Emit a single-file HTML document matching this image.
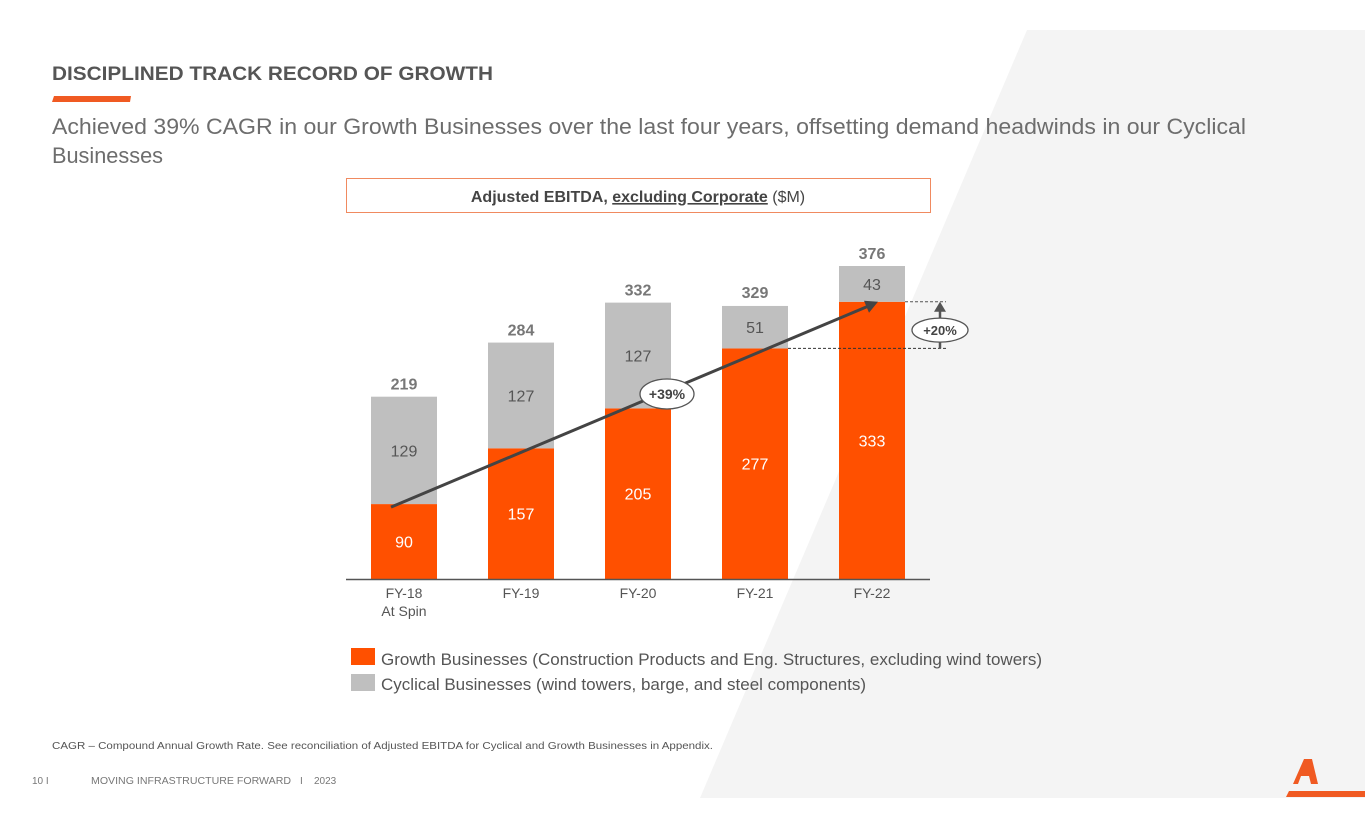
<!DOCTYPE html>
<html><head><meta charset="utf-8"><style>
html,body{margin:0;padding:0;background:#fff;}
svg{display:block;font-family:"Liberation Sans",Arial,sans-serif;}
</style></head><body>
<svg id="s" width="1365" height="829" viewBox="0 0 1365 829">
<polygon points="1027,30 1365,30 1365,798 700,798" fill="#f4f4f4"/>
<text x="52" y="80" font-size="19" font-weight="bold" fill="#555" textLength="441" lengthAdjust="spacingAndGlyphs">DISCIPLINED TRACK RECORD OF GROWTH</text>
<polygon points="54,96 131,96 130,102 52,102" fill="#f05a22"/>
<text x="52" y="134" font-size="22" fill="#6d6d6d" textLength="1194" lengthAdjust="spacingAndGlyphs">Achieved 39% CAGR in our Growth Businesses over the last four years, offsetting demand headwinds in our Cyclical</text>
<text x="52" y="163" font-size="22" fill="#6d6d6d" textLength="111" lengthAdjust="spacingAndGlyphs">Businesses</text>
<rect x="346.5" y="178.5" width="584" height="34" fill="#fff" stroke="#f08a60"/>
<text x="638" y="202" font-size="16" fill="#444" text-anchor="middle"><tspan font-weight="bold">Adjusted EBITDA, </tspan><tspan font-weight="bold" text-decoration="underline">excluding Corporate</tspan><tspan> ($M)</tspan></text>
<g id="chart"></g>
<rect x="351" y="648" width="24" height="17" fill="#ff5000"/>
<text x="381" y="665" font-size="16.5" fill="#555" textLength="661" lengthAdjust="spacingAndGlyphs">Growth Businesses (Construction Products and Eng. Structures, excluding wind towers)</text>
<rect x="351" y="674" width="24" height="17" fill="#bfbfbf"/>
<text x="381" y="690" font-size="16.5" fill="#555" textLength="485" lengthAdjust="spacingAndGlyphs">Cyclical Businesses (wind towers, barge, and steel components)</text>
<text x="52" y="749" font-size="10" fill="#555" textLength="661" lengthAdjust="spacingAndGlyphs">CAGR – Compound Annual Growth Rate. See reconciliation of Adjusted EBITDA for Cyclical and Growth Businesses in Appendix.</text>
<g font-size="10" fill="#777">
<text x="32" y="784">10  I</text>
<text x="91" y="784" textLength="200" lengthAdjust="spacingAndGlyphs">MOVING INFRASTRUCTURE FORWARD</text>
<text x="300" y="784">I</text>
<text x="314" y="784">2023</text>
</g>
<polygon points="1293,784 1304,759 1312,759 1318,784 1311,784 1309,776 1301,776 1298,784" fill="#f05a22"/>
<polygon points="1289,791 1365,791 1365,797 1286,797" fill="#f05a22"/>
</svg>
<script>
const categories=["FY-18","FY-19","FY-20","FY-21","FY-22"];
const growth=[90,157,205,277,333];
const cyclical=[129,127,127,51,43];
const totals=[219,284,332,329,376];
const NS="http://www.w3.org/2000/svg";
const g=document.getElementById('chart');
const base=579, k=313/376, x0=404, step=117, bw=66;
const X=i=>x0+i*step, Y=v=>base-v*k;
function el(t,a,txt){const e=document.createElementNS(NS,t);for(const n in a)e.setAttribute(n,a[n]);if(txt!=null)e.textContent=txt;g.appendChild(e);return e;}
categories.forEach((c,i)=>{
 let r=el('rect',{x:X(i)-bw/2,y:Y(growth[i]),width:bw,height:growth[i]*k,fill:'#ff5000'});
 
 
 r=el('rect',{x:X(i)-bw/2,y:Y(growth[i]+cyclical[i]),width:bw,height:cyclical[i]*k,fill:'#bfbfbf'});
 
 
 let t=el('text',{x:X(i),y:(Y(growth[i])+base)/2+6,'font-size':16,fill:'#fff','text-anchor':'middle'},growth[i]);
 
 
 t=el('text',{x:X(i),y:(Y(growth[i])+Y(growth[i]+cyclical[i]))/2+6,'font-size':16,fill:'#555','text-anchor':'middle'},cyclical[i]);
 
 
 t=el('text',{x:X(i),y:Y(totals[i])-7,'font-size':16,'font-weight':'bold',fill:'#777','text-anchor':'middle'},totals[i]);
 
 
 t=el('text',{x:X(i),y:598,'font-size':14,fill:'#555','text-anchor':'middle'},c);
 
 
});
let sp=el('text',{x:X(0),y:616,'font-size':14,fill:'#555','text-anchor':'middle'},'At Spin');


let ax=el('line',{x1:346,y1:base+0.5,x2:930,y2:base+0.5,stroke:'#555','stroke-width':1.5});


const ax1=X(0)-13, ay1=Y(growth[0])+3, ax2=X(4)+6, ay2=Y(growth[4]);
let ln=el('line',{x1:ax1,y1:ay1,x2:ax2-10,y2:ay2+4.5,stroke:'#444','stroke-width':3});


let ah=el('polygon',{points:`${ax2},${ay2} ${ax2-14},${ay2-1} ${ax2-9},${ay2+11}`,fill:'#444'});


let e1=el('ellipse',{cx:667,cy:394,rx:27,ry:15,fill:'#fff',stroke:'#555','stroke-width':1.3});


let t1=el('text',{x:667,y:399,'font-size':14,'font-weight':'bold',fill:'#444','text-anchor':'middle'},'+39%');


const yA=Y(growth[4]), yB=Y(growth[3]);
let d1=el('line',{x1:X(4)+bw/2,y1:yA,x2:946,y2:yA,stroke:'#555','stroke-dasharray':'3,2'});


let d2=el('line',{x1:X(3)+bw/2,y1:yB,x2:946,y2:yB,stroke:'#333','stroke-dasharray':'3,2'});


let v=el('line',{x1:940,y1:yB,x2:940,y2:yA+8,stroke:'#555','stroke-width':2.5});


let vh=el('polygon',{points:`940,${yA} 934,${yA+10} 946,${yA+10}`,fill:'#555'});


let e2=el('ellipse',{cx:940,cy:(yA+yB)/2+5,rx:28,ry:12,fill:'#fff',stroke:'#555','stroke-width':1.3});


let t2=el('text',{x:940,y:(yA+yB)/2+10,'font-size':13,'font-weight':'bold',fill:'#444','text-anchor':'middle'},'+20%');


</script>
</body></html>
